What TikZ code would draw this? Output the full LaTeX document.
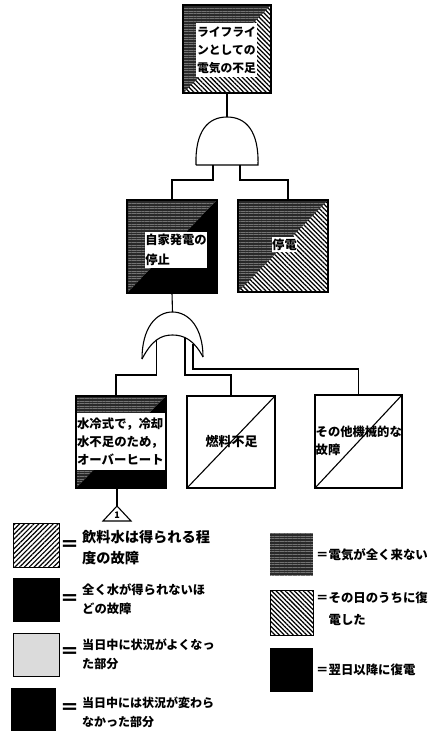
\documentclass[tikz,border=0pt]{standalone}
\usepackage{fontspec}
\newfontfamily\jp{Noto Sans CJK JP}
\usetikzlibrary{patterns.meta,calc}
\newcommand{\jpsize}[2]{\jp\bfseries\fontsize{#1}{#2}\selectfont}
\tikzset{
 wire/.style={line width=1.1pt},
 boxst/.style={draw, line width=1.1pt, inner sep=0pt, outer sep=0pt},
 noisy/.style={fill=black!84, postaction={pattern={Lines[angle=0,distance=2.6pt,line width=0.5pt]}, pattern color=black!55}},
 hatchback/.style={pattern={Lines[angle=-45,distance=3.2pt,line width=1.25pt]}, pattern color=black},
 hatchfwd/.style={pattern={Lines[angle=45,distance=3.4pt,line width=1.2pt]}, pattern color=black},
 splitNB/.style={boxst, path picture={
   \fill[noisy] (path picture bounding box.north west) -- (path picture bounding box.north east) -- (path picture bounding box.south west) -- cycle;
   \fill[black] (path picture bounding box.north east) -- (path picture bounding box.south east) -- (path picture bounding box.south west) -- cycle;}},
 splitNH/.style={boxst, path picture={
   \fill[noisy] (path picture bounding box.north west) -- (path picture bounding box.north east) -- (path picture bounding box.south west) -- cycle;
   \fill[hatchback] (path picture bounding box.north east) -- (path picture bounding box.south east) -- (path picture bounding box.south west) -- cycle;}},
 splitD/.style={boxst, path picture={
   \draw[line width=1.1pt] (path picture bounding box.south west) -- (path picture bounding box.north east);}},
 whitebox/.style={fill=white, inner sep=0.5pt, align=left},
 lbl/.style={inner sep=0pt, align=left, anchor=west},
 eqsign/.style={inner sep=0pt, font=\jpsize{19}{20}},
}
\begin{document}
\begin{tikzpicture}[x=1pt,y=-1pt]
\useasboundingbox[fill=white] (0,0) rectangle (430,731);

% ---- boxes ----
\node[splitNH, minimum width=88, minimum height=88] (top) at (227,49) {};
\node[whitebox, minimum width=61, minimum height=54, font=\jpsize{11.8}{18}] (toptext) at (226.5,50) {ライフライ\\ンとしての\\電気の不足};

\node[splitNB, minimum width=90, minimum height=93] (selfgen) at (172,246.5) {};
\node[whitebox, minimum width=62, minimum height=36, font=\jpsize{12.3}{20}] (selfgentext) at (176,250) {自家発電の\\停止};

\node[splitNH, minimum width=90, minimum height=92] (outage) at (283,246) {};
\node[whitebox, minimum width=25, minimum height=15, font=\jpsize{12.3}{15}] (outagetext) at (284.5,244.5) {停電};

\node[splitNB, minimum width=90, minimum height=92] (water) at (121,442) {};
\node[whitebox, text width=87.9, minimum height=57, font=\jpsize{12.4}{18}] (watertext) at (121,441.5) {水冷式で，冷却\\水不足のため，\\オーバーヒート};

\node[splitD, minimum width=88, minimum height=92] (fuel) at (231,442) {};
\node[inner sep=0pt, font=\jpsize{13}{15}] (fueltext) at (231.5,442) {燃料不足};

\node[splitD, minimum width=87, minimum height=93] (other) at (358.5,441.5) {};
\node[lbl, font=\jpsize{12.3}{18}] (othertext) at (315.5,441) {その他機械的な\\故障};

% ---- AND gate ----
\coordinate (andtop) at (227,117);
\coordinate (andL) at (213,165);
\coordinate (andR) at (240,165);
\draw[wire] (196,165) -- (258,165) .. controls (259,131) and (246,117) .. (andtop) .. controls (208,117) and (195,131) .. (196,165);
\draw[wire] (top.south) -- (andtop);
\draw[wire] (andL) -- ++(0,15) -| (selfgen.north);
\draw[wire] (andR) -- ++(0,15) -| ([xshift=5pt]outage.north);

% ---- OR gate ----
\coordinate (ortop) at (172.5,312);
\coordinate (orL) at (156.5,339.5);
\coordinate (orM) at (185,338);
\coordinate (orR) at (193,343.5);
\draw[wire] (142,359) .. controls (142,328) and (156,312) .. (ortop) .. controls (189,312) and (203,328) .. (203,357);
\draw[wire] (142,359) .. controls (152,340) and (161,335) .. (172.5,335) .. controls (184,335) and (194,340) .. (203,357);
\draw[wire] (selfgen.south) -- (ortop);
\draw[wire] (orL) -- ++(0,35.5) -| ([xshift=-5pt]water.north);
\draw[wire] (orM) -- ++(0,37) -| (fuel.north);
\draw[wire] (orR) -- ++(0,25.5) -| (other.north);

% ---- transfer triangle ----
\coordinate (trans) at (117,506);
\draw[wire] ([xshift=-4pt]water.south) -- (trans);
\draw[wire] (trans) -- (131,521) -- (103,521) -- cycle;
\node[inner sep=0pt, font=\jpsize{9}{10}] (transnum) at (117,515.5) {1};

% ---- legend left ----
\fill[hatchfwd] (13,523) rectangle (59,567);
\draw[line width=1pt] (13,523) rectangle (59,567);
\node[eqsign] (eq1) at (70,546) {＝};
\node[lbl, font=\jpsize{14.2}{21}] (leg1) at (82,547.5) {飲料水は得られる程\\度の故障};

\fill[black] (13,578) rectangle (60,622);
\node[eqsign] (eq2) at (70,600) {＝};
\node[lbl, font=\jpsize{12.3}{19}] (leg2) at (82,599.5) {全く水が得られないほ\\どの故障};

\fill[black!14] (13,633) rectangle (59,676);
\draw[line width=1pt] (13,633) rectangle (59,676);
\node[eqsign] (eq3) at (70,653) {＝};
\node[lbl, font=\jpsize{12.1}{19}] (leg3) at (82,654.5) {当日中に状況がよくなっ\\た部分};

\fill[black] (11,688) rectangle (56,731);
\node[eqsign] (eq4) at (70,709) {＝};
\node[lbl, font=\jpsize{12}{19}] (leg4) at (82,712.5) {当日中には状況が変わら\\なかった部分};

% ---- legend right ----
\fill[noisy] (270,533) rectangle (313,575);
\node[lbl, font=\jpsize{12.4}{15}] (legA) at (316,555) {＝電気が全く来ない};

\fill[hatchback] (270,590) rectangle (313,635);
\draw[line width=1pt] (270,590) rectangle (313,635);
\node[lbl, font=\jpsize{12.4}{22}] (legB) at (316,609) {＝その日のうちに復\\\hphantom{＝}電した};

\fill[black] (270,648) rectangle (313,692);
\node[lbl, font=\jpsize{12.4}{15}] (legC) at (316,670) {＝翌日以降に復電};
\end{tikzpicture}
\end{document}
